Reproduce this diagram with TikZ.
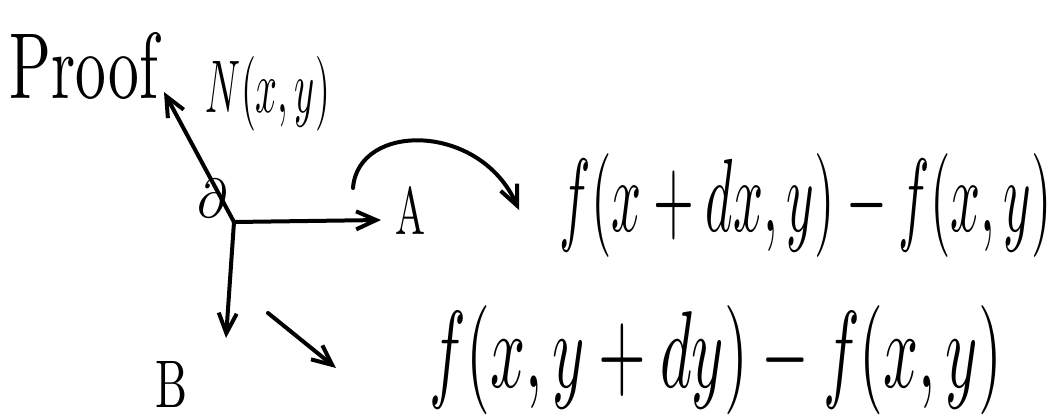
\documentclass[tikz,border=0pt]{standalone}
\usepackage{graphicx}
\usetikzlibrary{arrows.meta}
\newcommand{\hw}[3]{\resizebox{#1}{#2}{#3}}
\tikzset{
  ink/.style={line width=4pt, line cap=round, line join=round, black},
  arr/.style={ink, -{Straight Barb[length=20pt,width=18pt,line width=4pt]}},
  lbl/.style={inner sep=0pt, anchor=center}
}
\begin{document}
\begin{tikzpicture}[x=1pt,y=-1pt]
\useasboundingbox (0,0) rectangle (1064,418);
% labels
\node[lbl] (proof) at (84,66) {\hw{148pt}{66pt}{Proof}};
\node[lbl] (N) at (268,94) {\hw{124pt}{56pt}{$N(x,y)$}};
\node[lbl] (d) at (212,198) {\hw{30pt}{38pt}{$\partial$}};
\node[lbl] (A) at (410,210) {\hw{30pt}{48pt}{A}};
\node[lbl] (B) at (172,384) {\hw{32pt}{46pt}{B}};
\node[lbl] (fx) at (806,205) {\hw{492pt}{78pt}{$f(x+dx,y)-f(x,y)$}};
\node[lbl] (fy) at (716,360) {\hw{572pt}{82pt}{$f(x,y+dy)-f(x,y)$}};
% coordinates
\coordinate (O) at (234,222);
\coordinate (Nend) at (164,92);
\coordinate (Aend) at (381,220);
\coordinate (Bend) at (226,338);
\coordinate (s1) at (268,313);
\coordinate (e1) at (336,368);
\coordinate (c1) at (353,188);
\coordinate (c2) at (519,210);
% connectors
\draw[arr] (O) -- (Nend);
\draw[arr] (O) -- (Aend);
\draw[arr] (O) -- (Bend);
\draw[arr] (s1) -- (e1);
\draw[arr] (c1) .. controls (358,122) and (480,122) .. (c2);
\end{tikzpicture}
\end{document}
